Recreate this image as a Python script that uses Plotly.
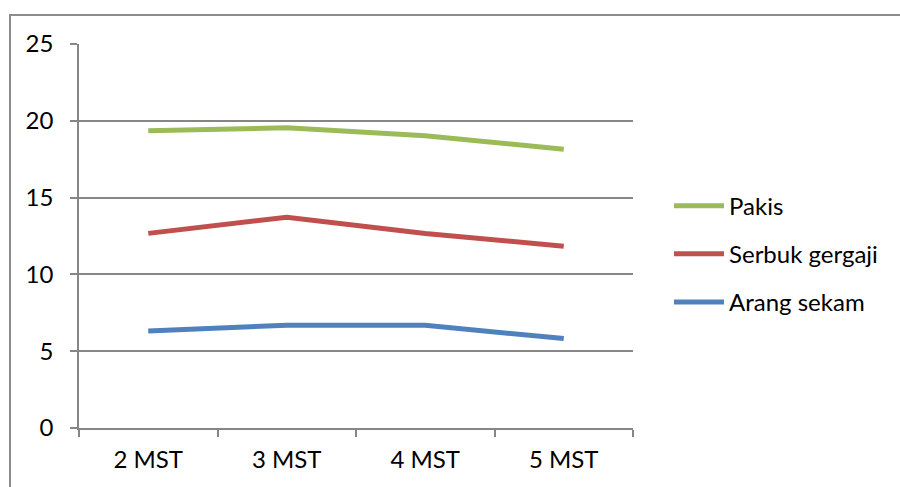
import plotly.graph_objects as go

# Weeks after planting (MST) and measured values per growing medium
weeks = ["2 MST", "3 MST", "4 MST", "5 MST"]
pakis = [19.35, 19.54, 19.02, 18.15]
serbuk_gergaji = [12.67, 13.72, 12.67, 11.83]
arang_sekam = [6.32, 6.69, 6.69, 5.82]

series = [
    ("Pakis", pakis, "#9BBB59"),
    ("Serbuk gergaji", serbuk_gergaji, "#C0504D"),
    ("Arang sekam", arang_sekam, "#4F81BD"),
]

FONT = "Lato"
FONT_SIZE = 24
GRID = "#868686"

fig = go.Figure()
for name, vals, color in series:
    fig.add_trace(go.Scatter(
        x=weeks, y=vals, name=name, mode="lines", legendgroup=name,
        line=dict(color=color, width=5),
    ))

fig.update_layout(
    width=900, height=487,
    margin=dict(l=79, r=267, t=44, b=59),
    paper_bgcolor="white", plot_bgcolor="white",
    font=dict(family=FONT, size=FONT_SIZE, color="black"),
    showlegend=True,
    legend=dict(
        x=1.065, y=0.453, xanchor="left", yanchor="middle",
        font=dict(family=FONT, size=FONT_SIZE, color="black"),
        itemwidth=50, tracegroupgap=14,
        bgcolor="rgba(0,0,0,0)",
    ),
    xaxis=dict(
        type="category", range=[-0.5, 3.5],
        showgrid=False, zeroline=False,
        showline=True, linecolor=GRID, linewidth=1.5,
        ticks="outside", tickson="boundaries", ticklen=7,
        tickcolor=GRID, tickwidth=1.5,
        ticklabelstandoff=9,
        tickfont=dict(family=FONT, size=FONT_SIZE, color="black"),
    ),
    yaxis=dict(
        range=[0, 25], tickvals=[0, 5, 10, 15, 20, 25],
        showgrid=True, gridcolor=GRID, gridwidth=1.5,
        zeroline=False,
        showline=True, linecolor=GRID, linewidth=1.5,
        ticks="outside", ticklen=7, tickcolor=GRID, tickwidth=1.5,
        ticklabelstandoff=12,
        tickfont=dict(family=FONT, size=FONT_SIZE, color="black"),
    ),
    shapes=[
        # outer chart frame (continues past the right and bottom edges)
        dict(type="rect", xref="paper", yref="paper",
             x0=(10 - 79) / 554, x1=(910 - 79) / 554,
             y0=(428 - 500) / 384, y1=(428 - 15) / 384,
             line=dict(color="#8C8C8C", width=2), layer="below"),
    ],
)

fig.write_html("out.html")
